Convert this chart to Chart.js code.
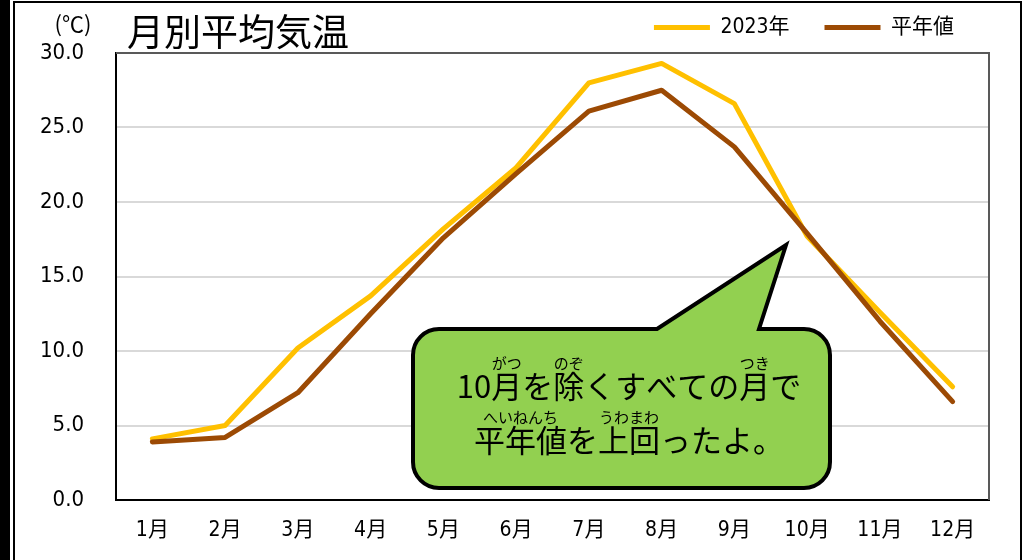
<!DOCTYPE html>
<html lang="ja">
<head>
<meta charset="utf-8">
<title>月別平均気温</title>
<script src="https://cdn.jsdelivr.net/npm/chart.js@4.4.1/dist/chart.umd.min.js"></script>
<style>
  html, body { margin: 0; padding: 0; background: #fff; }
  #wrap { width: 1029px; height: 560px; }
</style>
</head>
<body>
<div id="wrap"><canvas id="temp" width="1029" height="560"></canvas></div>
<script>
const months = ['1月', '2月', '3月', '4月', '5月', '6月', '7月', '8月', '9月', '10月', '11月', '12月']
const temp2023 = [4.1, 5.0, 10.2, 13.7, 18.2, 22.3, 28.0, 29.3, 26.6, 17.7, 12.6, 7.6]
const tempNormal = [3.9, 4.2, 7.2, 12.5, 17.6, 21.9, 26.1, 27.5, 23.7, 17.9, 12.0, 6.6]
const seriesNames = ['2023年', '平年値']
const seriesColors = ['#FFC000', '#9C4A04']

const chartTitle = '月別平均気温'
const unitLabel = '(℃)'

// 吹き出しの文とふりがな
const bubbleLines = [
  { text: '10月を除くすべての月で', ruby: [[2, 1, 'がつ'], [4, 1, 'のぞ'], [10, 1, 'つき']] },
  { text: '平年値を上回ったよ。', ruby: [[0, 3, 'へいねんち'], [4, 2, 'うわまわ']] }
]

const narrow = "'DejaVu Sans', 'Noto Sans CJK JP', sans-serif"
const jp = "'Noto Sans CJK JP', sans-serif"

Chart.defaults.font.family = narrow
Chart.defaults.font.weight = 'condensed'
Chart.defaults.color = '#000'

/* ============================== */

function drawRubyLine(ctx, cx, y, line) {
  ctx.font = '31px ' + jp
  const w = ctx.measureText(line.text).width
  const x0 = cx - w / 2
  ctx.textAlign = 'left'
  ctx.textBaseline = 'alphabetic'
  ctx.fillText(line.text, x0, y)
  line.ruby.forEach(r => {
    ctx.font = '31px ' + jp
    const a = ctx.measureText(line.text.slice(0, r[0])).width
    const b = ctx.measureText(line.text.slice(0, r[0] + r[1])).width
    ctx.font = '15px ' + jp
    ctx.textAlign = 'center'
    ctx.textBaseline = 'middle'
    ctx.fillText(r[2], x0 + (a + b) / 2, y - 35)
    ctx.textAlign = 'left'
    ctx.textBaseline = 'alphabetic'
  })
}

const decor = {
  id: 'decor',
  beforeDraw(chart) {
    const ctx = chart.ctx
    ctx.save()
    ctx.fillStyle = '#fff'
    ctx.fillRect(0, 0, chart.width, chart.height)
    ctx.restore()
  },
  beforeDatasetsDraw(chart) {
    const { ctx, chartArea: a } = chart
    ctx.save()
    ctx.strokeStyle = '#595959'
    ctx.lineWidth = 2
    ctx.beginPath()
    ctx.moveTo(a.left, a.top)
    ctx.lineTo(a.right, a.top)
    ctx.lineTo(a.right, a.bottom)
    ctx.stroke()
    ctx.restore()
  },
  afterDraw(chart) {
    const ctx = chart.ctx
    ctx.save()

    // 外枠
    ctx.fillStyle = '#000'
    ctx.fillRect(0, 0, 10, chart.height)
    ctx.strokeStyle = '#000'
    ctx.lineWidth = 2
    ctx.beginPath()
    ctx.moveTo(14, chart.height + 2)
    ctx.lineTo(14, 2)
    ctx.lineTo(1021, 2)
    ctx.lineTo(1021, chart.height + 2)
    ctx.stroke()

    // タイトルと単位
    ctx.fillStyle = '#000'
    ctx.font = '37px ' + jp
    ctx.textAlign = 'left'
    ctx.textBaseline = 'middle'
    ctx.fillText(chartTitle, 127, 32)
    ctx.font = '22px ' + jp
    ctx.textAlign = 'center'
    ctx.fillText(unitLabel, 73, 24)

    // 吹き出し
    const L = 413, T = 329, R = 830, B = 488, rad = 26
    ctx.beginPath()
    ctx.moveTo(L + rad, T)
    ctx.lineTo(657, T)
    ctx.lineTo(786, 245)
    ctx.lineTo(759, T)
    ctx.lineTo(R - rad, T)
    ctx.arcTo(R, T, R, T + rad, rad)
    ctx.lineTo(R, B - rad)
    ctx.arcTo(R, B, R - rad, B, rad)
    ctx.lineTo(L + rad, B)
    ctx.arcTo(L, B, L, B - rad, rad)
    ctx.lineTo(L, T + rad)
    ctx.arcTo(L, T, L + rad, T, rad)
    ctx.closePath()
    ctx.fillStyle = '#92D050'
    ctx.fill()
    ctx.lineWidth = 4
    ctx.lineJoin = 'miter'
    ctx.strokeStyle = '#000'
    ctx.stroke()

    ctx.fillStyle = '#000'
    drawRubyLine(ctx, 629, 398, bubbleLines[0])
    drawRubyLine(ctx, 629, 452, bubbleLines[1])

    ctx.restore()
  }
}

const temp = document.getElementById('temp')

new Chart(temp, {
  type: 'line',
  data: {
    labels: months,
    datasets: [{
      label: seriesNames[0],
      data: temp2023,
      borderColor: seriesColors[0],
      backgroundColor: seriesColors[0],
      borderWidth: 5,
      pointRadius: 0,
      order: 2
    }, {
      label: seriesNames[1],
      data: tempNormal,
      borderColor: seriesColors[1],
      backgroundColor: seriesColors[1],
      borderWidth: 5,
      pointRadius: 0,
      order: 1
    }]
  },
  options: {
    responsive: false,
    animation: false,
    devicePixelRatio: 1,
    layout: { padding: { left: 0, right: 40, top: 0, bottom: 0 } },
    elements: { line: { tension: 0, borderCapStyle: 'round', borderJoinStyle: 'round' } },
    plugins: {
      tooltip: { enabled: false },
      title: { display: false },
      subtitle: {
        display: true, text: '', weight: 500,
        padding: { top: 5, bottom: 0 },
        font: { size: 1, lineHeight: 0 }
      },
      legend: {
        position: 'top',
        align: 'end',
        reverse: true,
        labels: {
          boxWidth: 56,
          boxHeight: 5,
          padding: 17,
          font: { size: 21 },
          generateLabels(chart) {
            const items = Chart.defaults.plugins.legend.labels.generateLabels(chart)
            items.forEach(it => { it.text = it.text + '   '; it.lineWidth = 0 })
            return items
          }
        }
      }
    },
    scales: {
      x: {
        offset: true,
        grid: { display: false, drawTicks: false, offset: true },
        border: { color: '#000', width: 2 },
        ticks: { padding: 18, font: { size: 21 }, maxRotation: 0 },
        afterFit(scale) { scale.height = 60 }
      },
      y: {
        min: 0,
        max: 30,
        grid: { color: '#D9D9D9', lineWidth: 2, drawTicks: false },
        border: { color: '#000', width: 2 },
        ticks: {
          stepSize: 5,
          padding: 32,
          font: { size: 22 },
          callback: v => v.toFixed(1)
        },
        afterFit(scale) { scale.width = 116 }
      }
    }
  },
  plugins: [decor]
});
</script>
</body>
</html>
